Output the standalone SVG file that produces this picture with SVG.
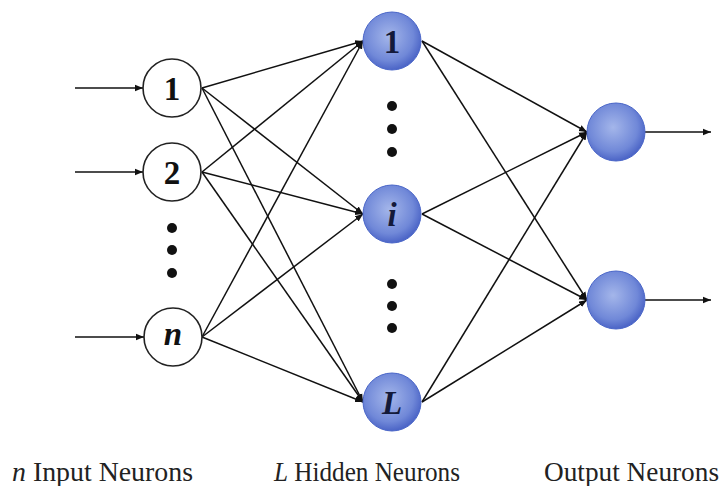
<svg xmlns="http://www.w3.org/2000/svg" width="724" height="486" viewBox="0 0 724 486">
<style>
.in{fill:#fff;stroke:#222;stroke-width:1.6}
.bl{fill:url(#g);stroke:#4a66c8;stroke-width:1}
.lbl{font-family:"Liberation Serif","Times New Roman",serif;font-weight:bold;font-size:33px;text-anchor:middle;fill:#111}
.hl{fill:#141a3a}
.it{font-style:italic}
.cap{font-family:"Liberation Serif","Times New Roman",serif;font-size:27px;fill:#222}
.c line{stroke:#111;stroke-width:1.5;marker-end:url(#a)}
.dot{fill:#111}
</style>
<defs>
<radialGradient id="g" cx="45%" cy="42%" r="60%">
<stop offset="0" stop-color="#a4b6ea"/>
<stop offset="0.7" stop-color="#7088d8"/>
<stop offset="1" stop-color="#4760c4"/>
</radialGradient>
<marker id="a" viewBox="0 0 10 10" refX="10" refY="5" markerWidth="8" markerHeight="8" orient="auto" markerUnits="userSpaceOnUse">
<path d="M0,1 L10,5 L0,9 z" fill="#111"/>
</marker>
</defs>
<rect width="724" height="486" fill="#fff"/>
<g class="c" id="connectors">
<line x1="75" y1="88" x2="143" y2="88"/>
<line x1="75" y1="172" x2="143" y2="172"/>
<line x1="75" y1="337" x2="144" y2="337"/>
<line x1="202" y1="88" x2="363" y2="41"/>
<line x1="202" y1="88" x2="363" y2="214"/>
<line x1="202" y1="88" x2="363" y2="402"/>
<line x1="202" y1="172" x2="363" y2="41"/>
<line x1="202" y1="172" x2="363" y2="214"/>
<line x1="202" y1="172" x2="363" y2="402"/>
<line x1="202" y1="337" x2="363" y2="41"/>
<line x1="202" y1="337" x2="363" y2="214"/>
<line x1="202" y1="337" x2="363" y2="402"/>
<line x1="422" y1="41" x2="587" y2="132"/>
<line x1="422" y1="41" x2="587" y2="300"/>
<line x1="422" y1="214" x2="587" y2="132"/>
<line x1="422" y1="214" x2="587" y2="300"/>
<line x1="422" y1="402" x2="587" y2="132"/>
<line x1="422" y1="402" x2="587" y2="300"/>
<line x1="645" y1="132" x2="711" y2="132"/>
<line x1="645" y1="300" x2="711" y2="300"/>
</g>
<g id="in1"><circle class="in" cx="172" cy="88" r="29"/><text class="lbl" x="172" y="100">1</text></g>
<g id="in2"><circle class="in" cx="172" cy="172" r="29"/><text class="lbl" x="172" y="184">2</text></g>
<g id="inn"><circle class="in" cx="173" cy="337" r="29"/><text class="lbl it" x="173" y="345">n</text></g>
<g id="indots"><circle class="dot" cx="172" cy="228" r="5"/><circle class="dot" cx="172" cy="250" r="5"/><circle class="dot" cx="172" cy="273" r="5"/></g>
<g id="h1"><circle class="bl" cx="392" cy="41" r="29"/><text class="lbl hl" x="392" y="53">1</text></g>
<g id="hi"><circle class="bl" cx="392" cy="214" r="29"/><text class="lbl hl it" x="392" y="226">i</text></g>
<g id="hL"><circle class="bl" cx="392" cy="402" r="29"/><text class="lbl hl it" x="392" y="414">L</text></g>
<g id="hdots1"><circle class="dot" cx="392" cy="106" r="5"/><circle class="dot" cx="392" cy="129" r="5"/><circle class="dot" cx="392" cy="152" r="5"/></g>
<g id="hdots2"><circle class="dot" cx="392" cy="284" r="5"/><circle class="dot" cx="392" cy="306" r="5"/><circle class="dot" cx="392" cy="328" r="5"/></g>
<g id="o1"><circle class="bl" cx="616" cy="132" r="29"/></g>
<g id="o2"><circle class="bl" cx="616" cy="300" r="29"/></g>
<g id="labels">
<text class="cap" x="12" y="481" textLength="181" lengthAdjust="spacingAndGlyphs"><tspan font-style="italic">n</tspan> Input Neurons</text>
<text class="cap" x="274" y="481" textLength="186" lengthAdjust="spacingAndGlyphs"><tspan font-style="italic">L</tspan> Hidden Neurons</text>
<text class="cap" x="544" y="481" textLength="175" lengthAdjust="spacingAndGlyphs">Output Neurons</text>
</g>
</svg>
